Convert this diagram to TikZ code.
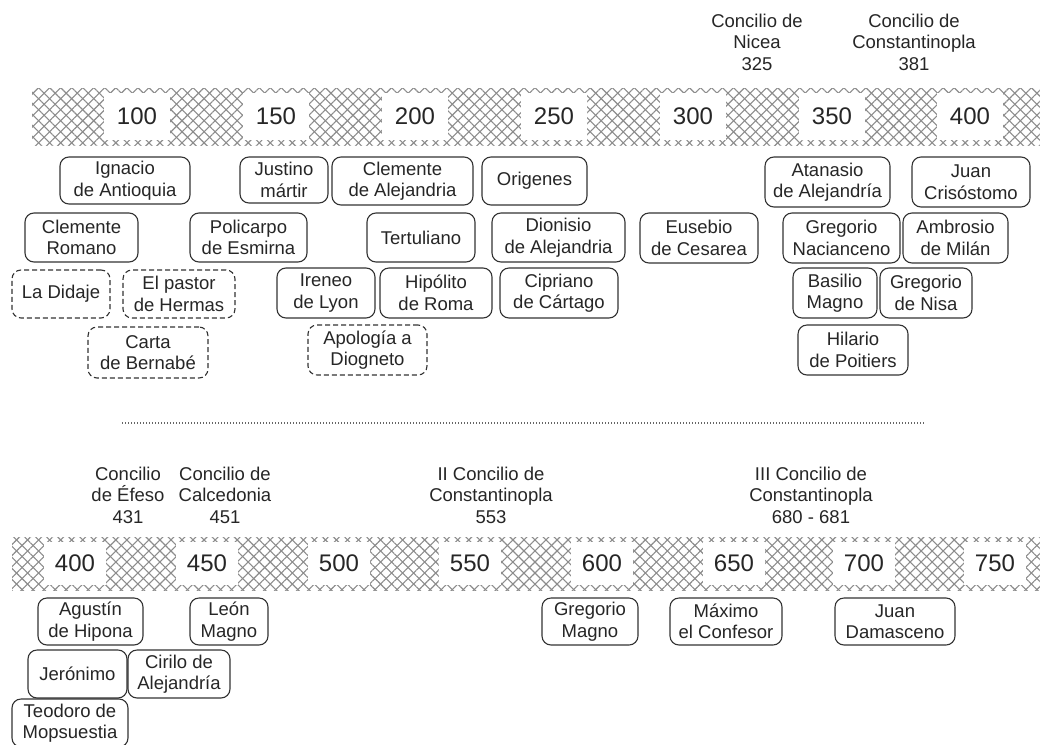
\documentclass[tikz,border=0pt]{standalone}
\usepackage{fontspec}
\setmainfont{Liberation Sans}
\usetikzlibrary{patterns.meta}

\tikzset{
  person/.style={draw=black!80, line width=1.1pt, rounded corners=9pt, align=center, inner sep=0pt, font=\fontsize{18.5}{21.5}\selectfont, text=black!85},
  writing/.style={person, dash pattern=on 5pt off 3pt},
  council/.style={align=center, inner sep=0pt, font=\fontsize{18.5}{21.5}\selectfont, text=black!85},
  year/.style={fill=white, inner sep=0pt, font=\fontsize{24}{28}\selectfont, text=black!85},
  topyear/.style={year, minimum width=66, minimum height=47},
  botyear/.style={year, minimum width=62, minimum height=43},
  hatch/.style={pattern={Lines[angle=#1,distance=7.8pt,line width=1.1pt]}, pattern color=black!45}
}

\begin{document}
\begin{tikzpicture}[x=1pt,y=-1pt]
    \useasboundingbox[fill=white] (0,0) rectangle (1040,744);

    \fill[hatch=45] (32,88) rectangle (1040,145);
    \fill[hatch=-45] (32,88) rectangle (1040,145);
    \node[topyear] (t100) at (137,116.5) {100};
    \node[topyear] (t150) at (276,116.5) {150};
    \node[topyear] (t200) at (415,116.5) {200};
    \node[topyear] (t250) at (554,116.5) {250};
    \node[topyear] (t300) at (693,116.5) {300};
    \node[topyear] (t350) at (832,116.5) {350};
    \node[topyear] (t400) at (970,116.5) {400};

    \node[council] (nicea) at (757,42) {Concilio de\\Nicea\\325};
    \node[council] (constantinopla1) at (914,42) {Concilio de\\Constantinopla\\381};

    \node[person, minimum width=130, minimum height=47] (ignacio) at (125,180.5) {Ignacio\\de Antioquia};
    \node[person, minimum width=88, minimum height=46] (justino) at (284,180) {Justino\\mártir};
    \node[person, minimum width=141, minimum height=48] (clementeA) at (402.5,181) {Clemente\\de Alejandria};
    \node[person, minimum width=105, minimum height=48] (origenes) at (534.5,181) {Origenes};
    \node[person, minimum width=113, minimum height=49] (clementeR) at (81.5,237.5) {Clemente\\Romano};
    \node[person, minimum width=117, minimum height=49] (policarpo) at (248.5,237.5) {Policarpo\\de Esmirna};
    \node[person, minimum width=108, minimum height=49] (tertuliano) at (421,237.5) {Tertuliano};
    \node[person, minimum width=133, minimum height=49] (dionisio) at (558.5,237.5) {Dionisio\\de Alejandria};
    \node[person, minimum width=118, minimum height=50] (eusebio) at (699,238) {Eusebio\\de Cesarea};
    \node[writing, minimum width=98, minimum height=48] (didaje) at (61,294) {La Didaje};
    \node[writing, minimum width=112, minimum height=48] (pastor) at (179,294) {El pastor\\de Hermas};
    \node[person, minimum width=98, minimum height=50] (ireneo) at (326,293) {Ireneo\\de Lyon};
    \node[person, minimum width=112, minimum height=50] (hipolito) at (436,293) {Hipólito\\de Roma};
    \node[person, minimum width=118, minimum height=50] (cipriano) at (559,293) {Cipriano\\de Cártago};
    \node[writing, minimum width=120, minimum height=51] (bernabe) at (148,352.5) {Carta\\de Bernabé};
    \node[writing, minimum width=119, minimum height=50] (diogneto) at (367.5,350) {Apología a\\Diogneto};
    \node[person, minimum width=125, minimum height=50] (atanasio) at (827.5,182) {Atanasio\\de Alejandría};
    \node[person, minimum width=118, minimum height=50] (crisostomo) at (971,182) {Juan\\Crisóstomo};
    \node[person, minimum width=117, minimum height=50] (nacianceno) at (841.5,238) {Gregorio\\Nacianceno};
    \node[person, minimum width=105, minimum height=50] (ambrosio) at (955.5,238) {Ambrosio\\de Milán};
    \node[person, minimum width=84, minimum height=50] (basilio) at (835,293) {Basilio\\Magno};
    \node[person, minimum width=92, minimum height=50] (nisa) at (926,293) {Gregorio\\de Nisa};
    \node[person, minimum width=110, minimum height=50] (hilario) at (853,350) {Hilario\\de Poitiers};

    \coordinate (sepL) at (122,423);
    \coordinate (sepR) at (925,423);
    \draw[line width=1.2pt, black!60, dash pattern=on 1pt off 2pt] (sepL) -- (sepR);

    \node[council] (efeso) at (128,495) {Concilio\\de Éfeso\\431};
    \node[council] (calcedonia) at (225,495) {Concilio de\\Calcedonia\\451};
    \node[council] (constantinopla2) at (491,495) {II Concilio de\\Constantinopla\\553};
    \node[council] (constantinopla3) at (811,495) {III Concilio de\\Constantinopla\\680 - 681};

    \fill[hatch=45] (12,537) rectangle (1040,590);
    \fill[hatch=-45] (12,537) rectangle (1040,590);
    \node[botyear] (b400) at (75,563.5) {400};
    \node[botyear] (b450) at (207,563.5) {450};
    \node[botyear] (b500) at (339,563.5) {500};
    \node[botyear] (b550) at (470,563.5) {550};
    \node[botyear] (b600) at (602,563.5) {600};
    \node[botyear] (b650) at (734,563.5) {650};
    \node[botyear] (b700) at (864,563.5) {700};
    \node[botyear] (b750) at (995,563.5) {750};

    \node[person, minimum width=105, minimum height=47] (agustin) at (90.5,621.5) {Agustín\\de Hipona};
    \node[person, minimum width=78, minimum height=47] (leon) at (229,621.5) {León\\Magno};
    \node[person, minimum width=99, minimum height=48] (jeronimo) at (77.5,674) {Jerónimo};
    \node[person, minimum width=102, minimum height=48] (cirilo) at (179,674) {Cirilo de\\Alejandría};
    \node[person, minimum width=116, minimum height=48] (teodoro) at (70,723) {Teodoro de\\Mopsuestia};
    \node[person, minimum width=96, minimum height=47] (gregorioM) at (590,621.5) {Gregorio\\Magno};
    \node[person, minimum width=112, minimum height=47] (maximo) at (726,621.5) {Máximo\\el Confesor};
    \node[person, minimum width=120, minimum height=47] (damasceno) at (895,621.5) {Juan\\Damasceno};
\end{tikzpicture}
\end{document}
